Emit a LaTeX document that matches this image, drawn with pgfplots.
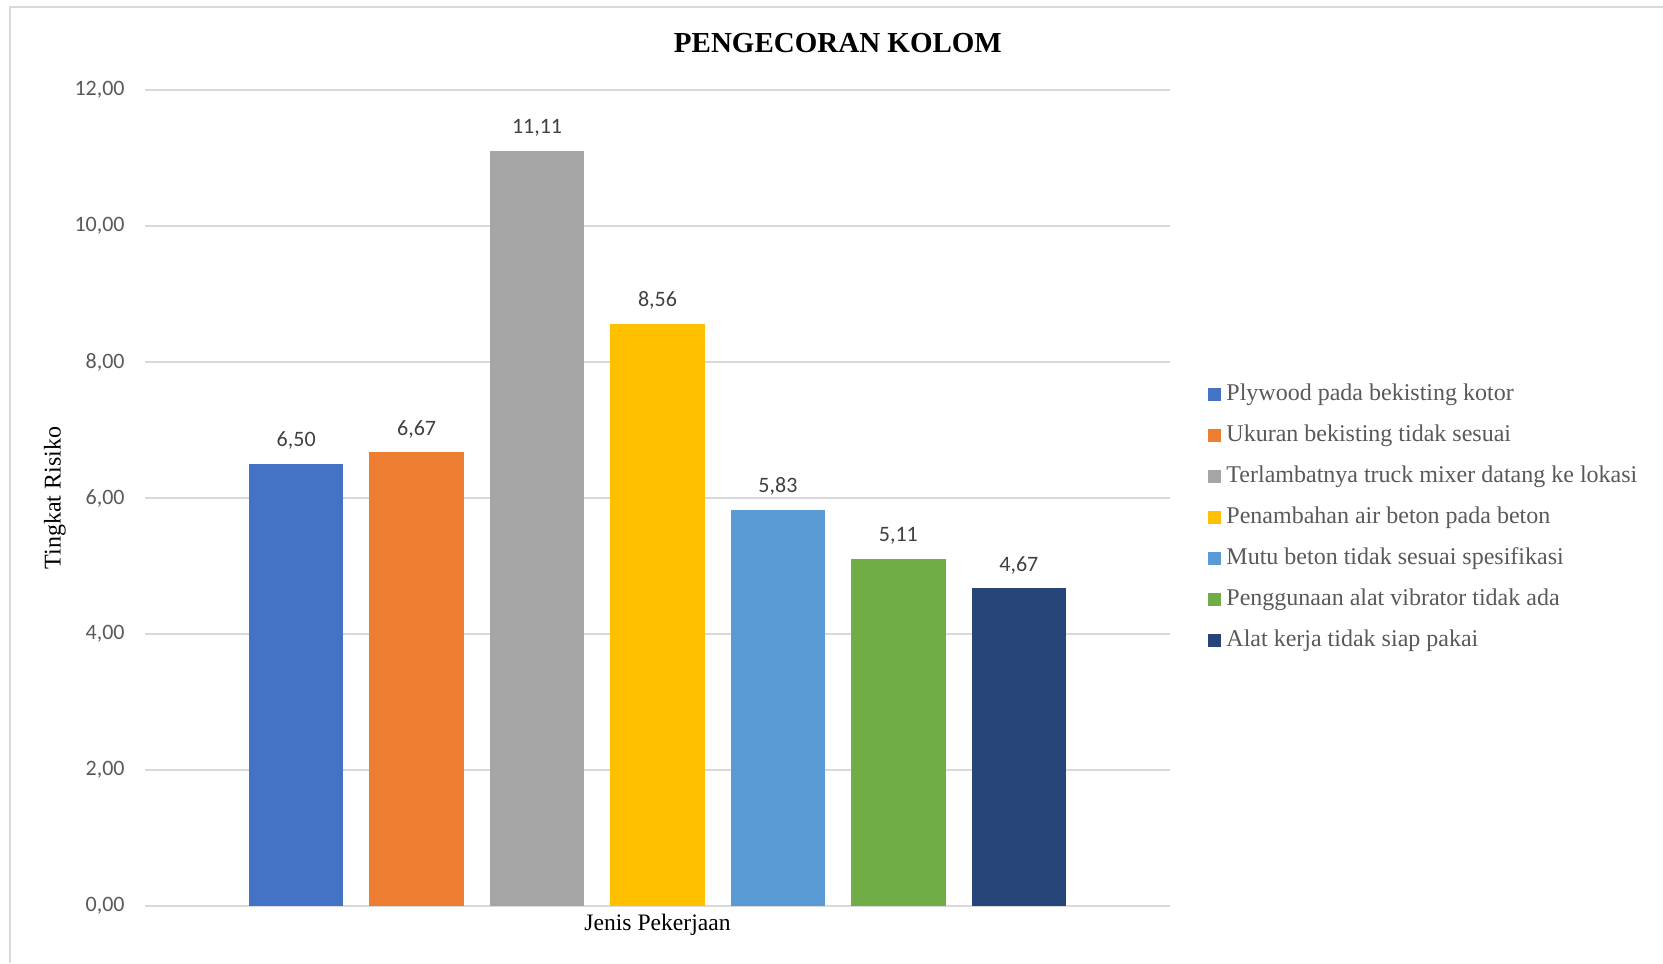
\documentclass[border=0pt]{standalone}
\usepackage{pgfplots}
\pgfplotsset{compat=1.18}
\usepackage{fontspec}
\setmainfont{Liberation Serif}
\newfontfamily\carlito{Carlito}
\definecolor{c1}{HTML}{4472C4}
\definecolor{c2}{HTML}{ED7D31}
\definecolor{c3}{HTML}{A5A5A5}
\definecolor{c4}{HTML}{FFC000}
\definecolor{c5}{HTML}{5B9BD5}
\definecolor{c6}{HTML}{70AD47}
\definecolor{c7}{HTML}{264478}
\definecolor{gridgray}{HTML}{D9D9D9}
\definecolor{ticktxt}{HTML}{595959}
\definecolor{lbltxt}{HTML}{404040}
\begin{document}
\begin{tikzpicture}
\useasboundingbox (0,0) rectangle (831.5pt,481.5pt);
\draw[gridgray, line width=0.9pt] (5pt,0) -- (5pt,478pt) -- (831.5pt,478pt);
\begin{axis}[
  at={(72.5pt,28.5pt)}, anchor=south west,
  scale only axis, width=512.5pt, height=408pt,
  ybar, bar shift=0pt, bar width=47.2pt,
  xmin=-1.255, xmax=7.255, ymin=0, ymax=12,
  xtick=\empty,
  ytick={0,2,4,6,8,10,12},
  /pgf/number format/.cd, fixed, fixed zerofill, precision=2, use comma, assume math mode=true,
  /pgfplots/.cd,
  yticklabel style={font=\carlito\fontsize{11}{13}\selectfont, text=ticktxt, anchor=east, inner sep=0pt, xshift=-10pt},
  major tick length=0pt,
  axis line style={draw=none},
  ymajorgrids, grid style={draw=gridgray, line width=0.6pt},
  title={PENGECORAN KOLOM},
  title style={font=\bfseries\fontsize{14.5}{16}\selectfont, at={(rel axis cs:0.676,1)}, anchor=center, yshift=17.5pt},
  ylabel={Tingkat Risiko},
  ylabel style={font=\fontsize{12}{14}\selectfont, at={(rel axis cs:0,0.5)}, anchor=center, yshift=45pt},
  xlabel={Jenis Pekerjaan},
  xlabel style={font=\fontsize{11.8}{13}\selectfont, at={(rel axis cs:0.5,0)}, anchor=center, yshift=-9.5pt},
  nodes near coords={\pgfmathprintnumber[fixed,fixed zerofill,precision=2,use comma,assume math mode=true]{\pgfplotspointmeta}},
  nodes near coords style={font=\carlito\fontsize{11}{13}\selectfont, text=lbltxt, anchor=base, inner sep=0pt, yshift=8.5pt},
  legend style={at={(axis description cs:1.0371,0.6425)}, anchor=north west, draw=none, fill=none, inner sep=0pt,
    row sep=8.55pt, font=\fontsize{12}{14}\selectfont, text=ticktxt,
    nodes={inner ysep=0pt, inner xsep=2.5pt, text height=9pt, text depth=3pt, anchor=west}},
  legend cell align=left,
  legend image code/.code={\fill[#1] (0pt,-3.25pt) rectangle (6.5pt,3.25pt);},
]
\addplot[fill=c1, draw=none] coordinates {(0,6.50)};
\addplot[fill=c2, draw=none] coordinates {(1,6.67)};
\addplot[fill=c3, draw=none] coordinates {(2,11.11)};
\addplot[fill=c4, draw=none] coordinates {(3,8.56)};
\addplot[fill=c5, draw=none] coordinates {(4,5.83)};
\addplot[fill=c6, draw=none] coordinates {(5,5.11)};
\addplot[fill=c7, draw=none] coordinates {(6,4.67)};
\legend{Plywood pada bekisting kotor, Ukuran bekisting tidak sesuai, Terlambatnya truck mixer datang ke lokasi, Penambahan air beton pada beton, Mutu beton tidak sesuai spesifikasi, Penggunaan alat vibrator tidak ada, Alat kerja tidak siap pakai}
\end{axis}
\end{tikzpicture}
\end{document}
